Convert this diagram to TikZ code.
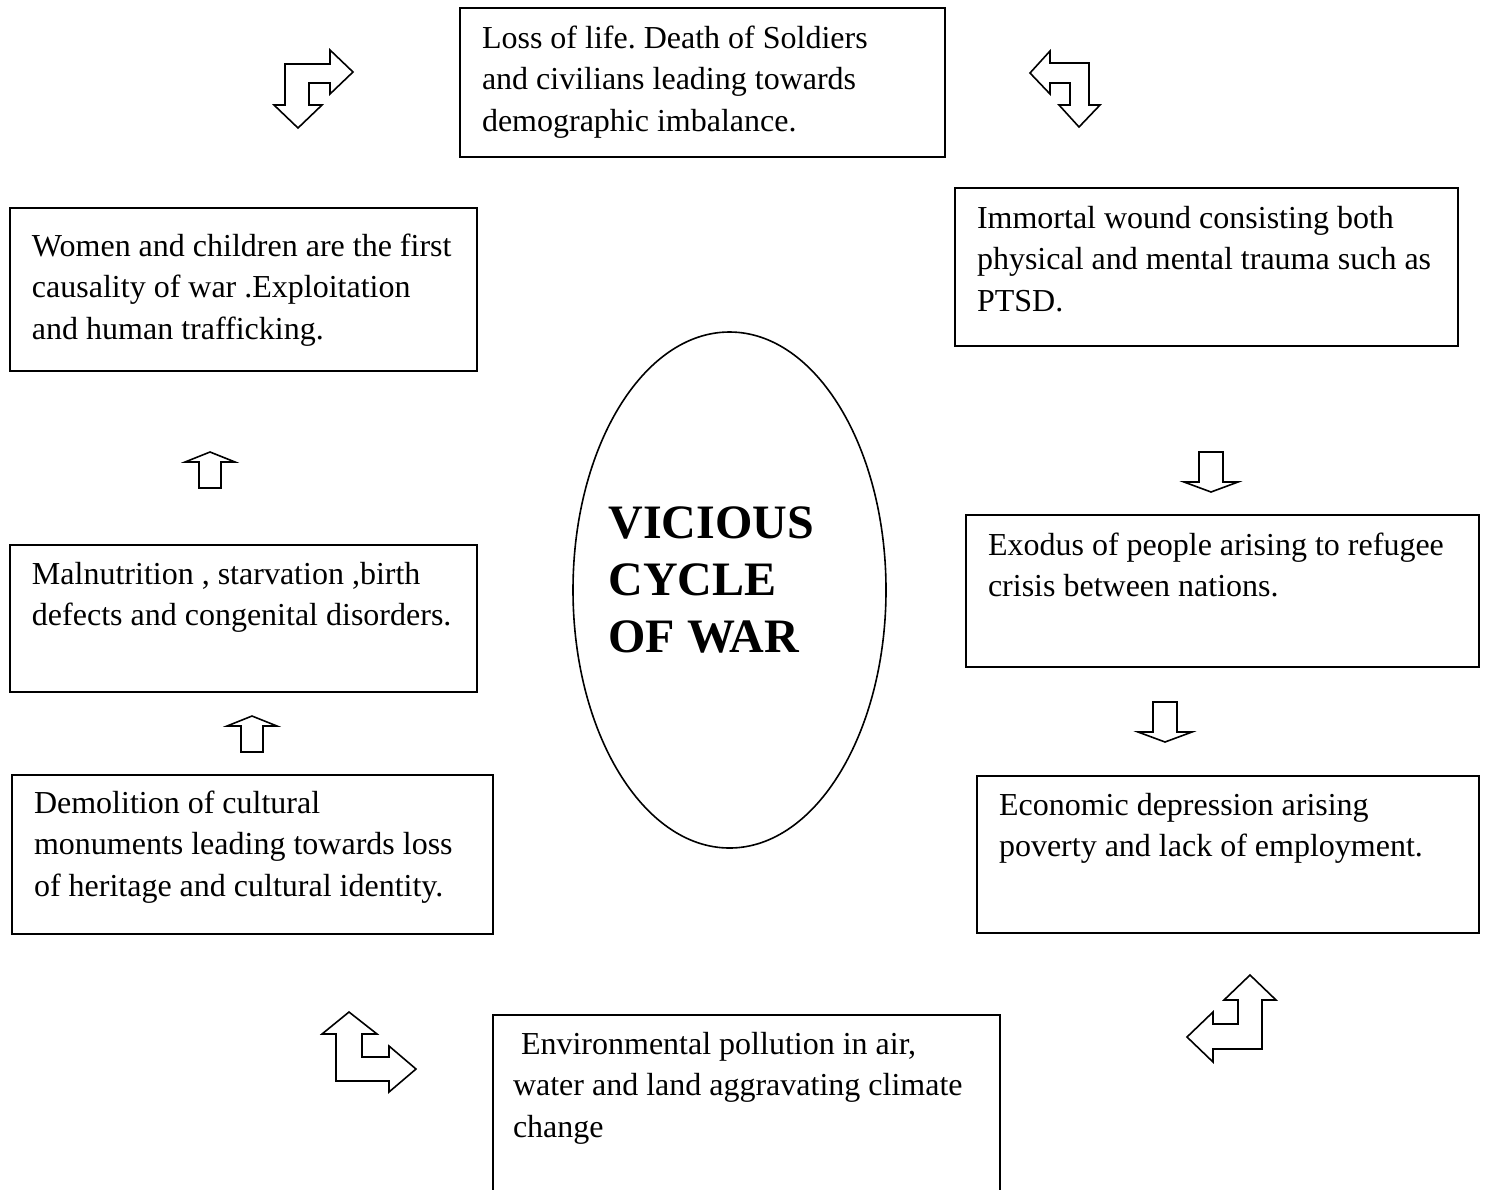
\documentclass[tikz,border=0pt]{standalone}
\usepackage{fontspec}
\setmainfont{Liberation Serif}
\usepackage{tikz}
\usetikzlibrary{shapes.geometric}

\begin{document}
\begin{tikzpicture}[x=0.5pt,y=-0.5pt,
    every node/.style={execute at begin node={\frenchspacing\spaceskip=0pt\xspaceskip=0pt\rightskip=0pt plus 1fil}},
    warbox/.style={draw,line width=0.8pt,anchor=north west,outer sep=0pt,
      inner xsep=11pt,inner ysep=0pt,align=left,
      font=\fontsize{16}{20.75}\selectfont},
    blockarrow/.style={draw,line width=0.8pt,line join=miter,fill=white}]
    \clip (0,0) rectangle (1486,1189);
    \node[warbox,text width=220.5pt,text height=20pt,text depth=54.5pt] (loss) at (460,8)
      {Loss of life. Death of Soldiers\\and civilians leading towards\\demographic imbalance.};
    \node[warbox,text width=229.5pt,text height=20pt,text depth=59pt] (wound) at (955,188)
      {Immortal wound consisting both\\physical and mental trauma such as\\PTSD.};
    \node[warbox,text width=211.5pt,text height=24pt,text depth=57.5pt] (women) at (10,208)
      {Women and children are the first\\causality of war .Exploitation\\and human trafficking.};
    \node[warbox,text width=234.5pt,text height=20pt,text depth=56pt] (exodus) at (966,515)
      {Exodus of people arising to refugee\\crisis between nations.};
    \node[warbox,text width=211.5pt,text height=19.5pt,text depth=54pt] (malnutrition) at (10,545)
      {Malnutrition , starvation ,birth\\defects and congenital disorders.};
    \node[warbox,text width=229pt,text height=19.5pt,text depth=59pt] (economy) at (977,776)
      {Economic depression arising\\poverty and lack of employment.};
    \node[warbox,text width=218.5pt,text height=19pt,text depth=60.5pt] (heritage) at (12,775)
      {Demolition of cultural\\monuments leading towards loss\\of heritage and cultural identity.};
    \node[warbox,inner xsep=10pt,text width=233.5pt,text height=19.5pt,text depth=80.5pt] (pollution) at (493,1015)
      {\ Environmental pollution in air,\\water and land aggravating climate\\change};

    \node[draw,ellipse,line width=0.8pt,minimum width=156.5pt,minimum height=258pt,inner sep=0pt] (cycle) at (729.5,590) {};
    \node[anchor=north west,inner sep=0pt,align=left,text width=112pt,text height=15.9pt,
      font=\bfseries\fontsize{24}{28.5}\selectfont] (title) at (608,506) {VICIOUS\\CYCLE\\OF WAR};

    \draw[blockarrow] (298,128) -- (274,105) -- (285,105) -- (285,64) -- (330,64) -- (330,50) -- (353,72)
      -- (330,94) -- (330,83) -- (309,83) -- (309,105) -- (322,105) -- cycle;
    \draw[blockarrow] (1030,73) -- (1050,51) -- (1050,63) -- (1089,63) -- (1089,105) -- (1100,105) -- (1079,127)
      -- (1059,105) -- (1070,105) -- (1070,83) -- (1050,83) -- (1050,94) -- cycle;
    \draw[blockarrow] (1250,975) -- (1276,1000) -- (1262,1000) -- (1262,1049) -- (1213,1049) -- (1213,1062) -- (1187,1037)
      -- (1213,1012) -- (1213,1024) -- (1238,1024) -- (1238,1000) -- (1224,1000) -- cycle;
    \draw[blockarrow] (349,1012) -- (377,1034) -- (362,1034) -- (362,1057) -- (389,1057) -- (389,1046) -- (416,1069)
      -- (389,1092) -- (389,1081) -- (336,1081) -- (336,1034) -- (322,1034) -- cycle;

    \foreach \tip in {(210,452),(252,716)}
      \draw[blockarrow,shift={\tip}] (0,0) -- (25,10) -- (11,10) -- (11,36) -- (-11,36) -- (-11,10) -- (-25,10) -- cycle;
    \foreach \tip in {(1211,492),(1165,742)}
      \draw[blockarrow,shift={\tip}] (0,0) -- (27,-10) -- (12,-10) -- (12,-40) -- (-12,-40) -- (-12,-10) -- (-27,-10) -- cycle;
  \end{tikzpicture}
\end{document}
